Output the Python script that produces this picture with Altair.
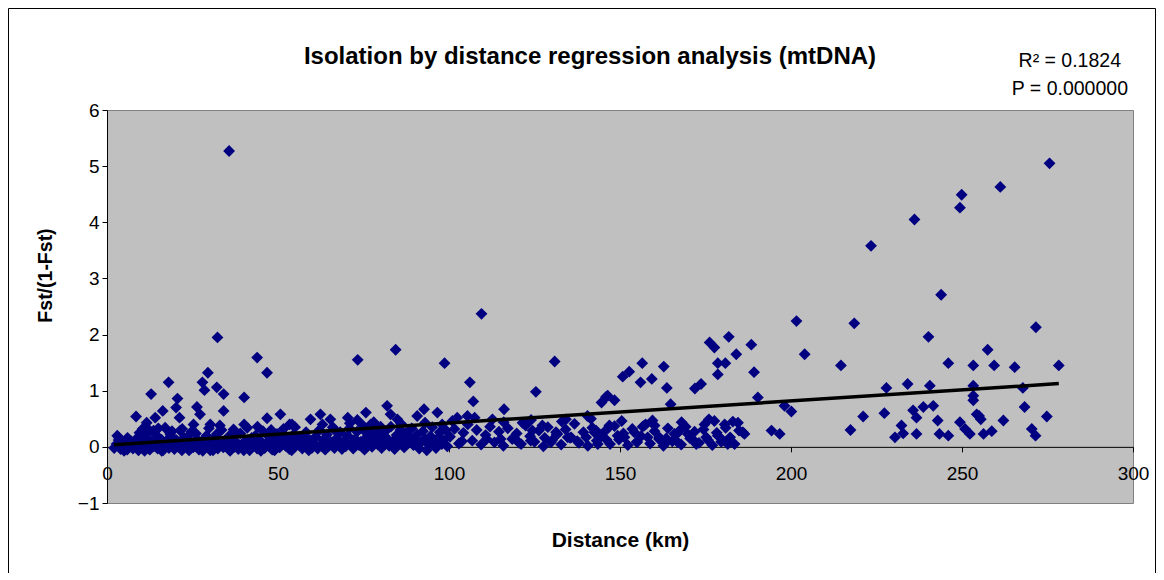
import altair as alt
import pandas as pd

# ---- data ----
# scattered / upper points
sparse_x = [35.7, 32.3, 43.9, 46.8, 18.0, 29.5, 27.9, 28.5, 12.9, 32.1, 34.1, 20.6, 40.1, 20.2, 26.3, 16.3,
            34.1, 8.5, 27.2, 14.1, 21.2, 50.7, 46.8, 40.1, 30.2, 53.4, 11.6, 10.4, 17.0, 21.4, 25.3, 13.6,
            18.5, 24.3, 32.1, 35.8, 43.4, 49.7, 3.5, 59.5, 62.4, 65.3,
            109.5, 73.3, 84.4, 98.7, 106.1, 107.1, 75.7, 96.6, 81.9, 92.7, 70.4, 73.2, 82.9, 84.9, 90.7,
            102.4, 105.4, 77.1, 66.3, 54.1,
            130.9, 125.4, 116.1, 134.2, 112.7, 134.7, 131.3, 127.3, 124.4, 121.5, 156.5, 162.8, 150.8,
            152.7, 156.0, 159.3, 163.7, 164.8, 145.9, 148.4, 144.6, 140.5, 146.9, 157.1, 160.1, 131.7,
            142.5, 151.3, 154.2, 115.1, 119.0, 123.9, 129.8, 143.5, 164.0, 165.9,
            201.6, 181.8, 176.2, 177.6, 188.4, 184.0, 204.0, 178.6, 180.8, 189.2, 178.6, 171.9, 173.7,
            190.3, 146.4, 198.1, 200.1, 135.7, 140.1, 143.0, 146.9, 149.3, 156.6, 158.1, 161.5, 167.4,
            169.8, 166.9, 172.3, 174.7, 177.6, 180.6, 184.5, 186.4, 178.6, 181.5, 194.3, 196.7, 175.2,
            185.9,
            223.4, 218.5, 214.6, 221.1, 217.4,
            275.6, 261.2, 249.9, 249.4, 236.1, 243.9, 271.6, 240.2, 257.5, 278.3, 246.0, 253.3, 259.4,
            265.4, 234.1, 227.9, 240.6, 253.3, 267.8, 253.3, 253.3, 227.3, 235.7, 236.7, 238.7, 241.6,
            268.3, 274.8, 242.9, 255.0, 262.1, 249.4, 232.3, 230.4, 232.8, 236.7, 243.4, 246.0, 250.9,
            252.3, 254.3, 255.5, 256.3, 258.7, 270.4, 271.5]
sparse_y = [5.27, 1.95, 1.59, 1.32, 1.15, 1.32, 1.15, 1.01, 0.94, 1.06, 0.94, 0.86, 0.88, 0.70, 0.71, 0.64,
            0.64, 0.54, 0.58, 0.52, 0.52, 0.58, 0.51, 0.40, 0.40, 0.40, 0.43, 0.32, 0.34, 0.29, 0.40, 0.29,
            0.23, 0.23, 0.23, 0.20, 0.20, 0.23, 0.16, 0.49, 0.58, 0.49,
            2.37, 1.55, 1.73, 1.49, 1.15, 0.81, 0.61, 0.61, 0.73, 0.67, 0.52, 0.48, 0.58, 0.49, 0.55,
            0.52, 0.55, 0.40, 0.32, 0.40,
            1.52, 0.98, 0.67, 0.49, 0.49, 0.17, 0.26, 0.38, 0.29, 0.43, 1.49, 1.43, 1.25,
            1.34, 1.15, 1.21, 1.05, 0.76, 0.89, 0.83, 0.79, 0.55, 0.38, 0.38, 0.38, 0.23,
            0.26, 0.17, 0.26, 0.14, 0.17, 0.11, 0.08, 0.05, 0.11, 0.23,
            2.24, 1.96, 1.86, 1.77, 1.82, 1.65, 1.65, 1.49, 1.49, 1.33, 1.29, 1.04, 1.12,
            0.88, 0.91, 0.73, 0.63, 0.17, 0.17, 0.29, 0.36, 0.20, 0.36, 0.17, 0.17, 0.29,
            0.23, 0.08, 0.05, 0.40, 0.46, 0.40, 0.43, 0.23, 0.20, 0.05, 0.29, 0.23, 0.17,
            0.26,
            3.58, 2.20, 1.45, 0.54, 0.30,
            5.05, 4.63, 4.49, 4.26, 4.05, 2.71, 2.13, 1.96, 1.73, 1.45, 1.49, 1.45, 1.45,
            1.42, 1.12, 1.05, 1.09, 1.09, 1.05, 0.91, 0.83, 0.60, 0.65, 0.52, 0.71, 0.73,
            0.71, 0.54, 0.47, 0.55, 0.47, 0.44, 0.38, 0.17, 0.24, 0.23, 0.23, 0.20, 0.32,
            0.23, 0.58, 0.49, 0.23, 0.28, 0.32, 0.20]

# dense band near zero
band_x = [2.1, 2.8, 3.4, 4.0, 4.7, 5.3, 5.9, 6.4, 7.0, 7.6, 8.1, 8.7, 9.2, 9.8, 10.3, 10.9, 11.4, 12.0,
          12.5, 13.1, 13.7, 14.2, 14.8, 15.3, 15.9, 16.4, 17.0, 17.5, 18.1, 18.6, 19.2, 19.7, 20.3, 20.8,
          21.4, 21.9, 22.5, 23.0, 23.6, 24.1, 24.7, 25.2, 25.8, 26.3, 26.9, 27.4, 28.0, 28.5, 29.1, 29.6,
          30.2, 30.7, 31.3, 31.8, 32.4, 32.9, 33.5, 34.0, 34.6, 35.1, 35.7, 36.2, 36.8, 37.3, 37.9, 38.4,
          39.0, 39.5, 40.1, 40.6, 41.2, 41.7, 42.3, 42.8, 43.4, 43.9, 44.5, 45.0, 45.6, 46.1, 46.7, 47.2,
          47.8, 48.3, 48.9, 49.4, 50.0, 50.5, 51.1, 51.6, 52.2, 52.7, 53.3, 53.8, 54.4, 54.9, 55.5, 56.0,
          56.6, 57.1, 57.7, 58.2, 58.8, 59.3, 59.9,
          3.0, 6.0, 9.5, 12.3, 15.0, 19.0, 22.0, 26.0, 29.8, 33.0, 37.0, 41.0, 44.0, 48.0, 52.0, 55.0,
          58.0, 5.0, 11.0, 16.0, 24.0, 28.0, 31.0, 36.0, 40.0, 45.0, 49.0, 54.0, 59.0,
          60.5, 61.0, 61.6, 62.1, 62.7, 63.2, 63.8, 64.3, 64.9, 65.4, 66.0, 66.5, 67.1, 67.6, 68.2, 68.7,
          69.3, 69.8, 70.4, 70.9, 71.5, 72.0, 72.6, 73.1, 73.7, 74.2, 74.8, 75.3, 75.9, 76.4, 77.0, 77.5,
          78.1, 78.6, 79.2, 79.7, 80.3, 80.8, 81.4, 81.9, 82.5, 83.0, 83.6, 84.1, 84.7, 85.2, 85.8, 86.3,
          86.9, 87.4, 88.0, 88.5, 89.1, 89.6, 90.2, 90.7, 91.3, 91.8, 92.4, 92.9, 93.5, 94.0, 94.6, 95.1,
          95.7, 96.2, 96.8, 97.3, 97.9, 98.4, 99.0, 99.5,
          63.0, 71.0, 78.0, 86.0, 93.0, 98.0, 80.0, 75.0, 67.0,
          100.3, 101.6, 102.9, 104.2, 105.5, 106.8, 108.1, 109.4, 110.7, 112.0, 113.3, 114.6,
          115.9, 117.2, 118.5, 119.8, 121.1, 122.4, 123.7, 125.0, 126.3, 127.6, 128.9, 130.2,
          131.5, 132.8, 134.1, 135.4, 136.7, 138.0, 139.3, 140.6, 141.9, 143.2, 144.5, 145.8,
          147.1, 148.4, 149.7, 151.0, 152.3, 153.6, 154.9, 156.2, 157.5, 158.8, 160.1, 161.4,
          162.7, 164.0, 165.3, 166.6, 167.9, 169.2, 170.5, 171.8, 173.1, 174.4, 175.7, 177.0,
          178.3, 179.6, 180.9, 182.2, 183.5, 184.8,
          101.0, 103.8, 107.5, 111.0, 116.0, 120.5, 124.0, 128.0, 133.0, 137.5, 141.5, 146.0,
          150.5, 155.0, 159.5, 163.5, 168.0, 172.0, 176.0, 180.0, 183.0]
band_y = [-0.02, 0.05, 0.12, -0.04, 0.03, 0.08, -0.05, 0.01, 0.10, -0.03, 0.04, 0.15, -0.06, 0.02, 0.07, -0.02,
          0.18, 0.04, -0.05, 0.09, 0.01, 0.22, -0.03, 0.06, 0.13, -0.06, 0.03, 0.10, -0.02, 0.19, 0.05, -0.04,
          0.12, 0.00, 0.07, -0.06, 0.16, 0.03, -0.03, 0.09, 0.27, -0.01, 0.05, 0.14, -0.05, 0.02, 0.11, -0.02,
          0.20, 0.06, -0.06, 0.01, 0.15, 0.04, -0.03, 0.09, 0.30, -0.01, 0.06, 0.13, -0.05, 0.03, 0.18, 0.00,
          0.08, -0.04, 0.24, 0.05, -0.02, 0.11, 0.02, -0.06, 0.16, 0.04, 0.09, -0.03, 0.13, 0.01, 0.28, -0.02,
          0.07, 0.19, 0.03, -0.05, 0.10, 0.05, 0.15, -0.01, 0.08, 0.32, 0.02, 0.12, -0.04, 0.06, 0.21, 0.00,
          0.10, 0.04, 0.17, -0.03, 0.08, 0.26, 0.03, 0.12, -0.02,
          0.20, 0.16, 0.25, 0.30, 0.33, 0.28, 0.32, 0.24, 0.33, 0.38, 0.31, 0.34, 0.36, 0.30, 0.20, 0.35,
          0.15, -0.07, -0.07, -0.07, -0.06, -0.07, -0.06, -0.07, -0.06, -0.07, -0.06, -0.06, -0.06,
          0.07, 0.18, -0.03, 0.30, 0.04, 0.12, -0.05, 0.22, 0.02, 0.09, 0.35, -0.02, 0.15, 0.05, 0.26, -0.04,
          0.11, 0.01, 0.20, 0.33, 0.06, -0.03, 0.14, 0.27, 0.03, 0.09, 0.38, -0.05, 0.17, 0.06, 0.24, 0.00,
          0.12, 0.31, 0.04, 0.19, -0.02, 0.08, 0.28, 0.15, 0.02, 0.36, 0.10, -0.04, 0.21, 0.05, 0.30, 0.13,
          -0.01, 0.25, 0.07, 0.17, 0.33, 0.03, 0.11, 0.22, -0.03, 0.08, 0.28, 0.14, -0.06, 0.04, 0.19, 0.35,
          0.09, -0.02, 0.16, 0.26, 0.05, 0.12, 0.30, 0.01,
          0.40, 0.42, 0.44, 0.41, 0.43, 0.40, 0.36, 0.30, 0.28,
          0.18, 0.32, 0.06, 0.25, 0.40, 0.11, 0.30, 0.04, 0.21, 0.36, 0.08, 0.27,
          0.02, 0.33, 0.14, 0.24, 0.05, 0.38, 0.19, 0.09, 0.29, 0.01, 0.35, 0.12,
          0.22, 0.04, 0.31, 0.16, 0.41, 0.07, 0.26, 0.02, 0.34, 0.11, 0.20, 0.29,
          0.05, 0.37, 0.13, 0.24, 0.03, 0.32, 0.09, 0.19, 0.40, 0.06, 0.28, 0.14,
          0.02, 0.33, 0.10, 0.23, 0.04, 0.36, 0.15, 0.27, 0.07, 0.31, 0.12, 0.03,
          0.25, 0.09, 0.34, 0.17, 0.05, 0.29,
          0.46, 0.10, 0.52, 0.14, 0.44, 0.07, 0.48, 0.16, 0.45, 0.10, 0.50, 0.13,
          0.46, 0.08, 0.47, 0.15, 0.44, 0.09, 0.49, 0.12, 0.45]

# regression line
reg_intercept = 0.03
reg_slope = 0.00394
line_x = [2.0, 278.3]

x_ticks = [0, 50, 100, 150, 200, 250, 300]
y_ticks = [-1, 0, 1, 2, 3, 4, 5, 6]

chart_title = "Isolation by distance regression analysis (mtDNA)"
x_title = "Distance (km)"
y_title = "Fst/(1-Fst)"
r2_text = "R\u00b2 = 0.1824"
p_text = "P = 0.000000"

# ---- build ----
W, H = 1026, 393
FONT = "Liberation Sans"

pts = pd.DataFrame({"x": sparse_x + band_x, "y": sparse_y + band_y})
line_df = pd.DataFrame({"x": line_x, "y": [reg_intercept + reg_slope * v for v in line_x]})

xscale = alt.Scale(domain=[0, 300], nice=False, zero=False)
yscale = alt.Scale(domain=[-1, 6], nice=False, zero=False)

xaxis = alt.Axis(values=x_ticks, grid=False, offset=-H / 7.0, domainColor="black", tickColor="black",
                 tickSize=5, labelFont=FONT, labelFontSize=19, labelColor="black", labelPadding=13,
                 labelFlush=False, labelOverlap=False,
                 title=x_title, titleFont=FONT, titleFontSize=21, titleFontWeight="bold",
                 titleColor="black", titleY=94, titleBaseline="middle")
yaxis = alt.Axis(values=y_ticks, grid=False, domainColor="black", tickColor="black", tickSize=5,
                 labelFont=FONT, labelFontSize=19, labelColor="black", labelPadding=3,
                 labelFlush=False, labelOverlap=False,
                 title=y_title, titleFont=FONT, titleFontSize=19.5, titleFontWeight="bold",
                 titleColor="black", titleX=-62, titleY=165, titleAlign="center",
                 titleBaseline="middle")

points = alt.Chart(pts).mark_point(shape="diamond", filled=True, size=140, color="#000080",
                                   opacity=1).encode(
    x=alt.X("x:Q", scale=xscale, axis=xaxis),
    y=alt.Y("y:Q", scale=yscale, axis=yaxis),
)

reg = alt.Chart(line_df).mark_line(color="black", strokeWidth=3.5).encode(
    x=alt.X("x:Q", scale=xscale, axis=xaxis),
    y=alt.Y("y:Q", scale=yscale, axis=yaxis),
)

one = pd.DataFrame({"a": [0]})
frame_top = alt.Chart(one).mark_rule(color="black", strokeWidth=1).encode(
    x=alt.value(-98.5), x2=alt.value(W + 22.5), y=alt.value(-101.5))
frame_left = alt.Chart(one).mark_rule(color="black", strokeWidth=1).encode(
    x=alt.value(-98.5), y=alt.value(-101.5), y2=alt.value(H + 75))
frame_right = alt.Chart(one).mark_rule(color="black", strokeWidth=1).encode(
    x=alt.value(W + 22.5), y=alt.value(-101.5), y2=alt.value(H + 75))

title_mark = alt.Chart(pd.DataFrame({"t": [chart_title]})).mark_text(
    font=FONT, fontSize=24, fontWeight="bold", align="center", baseline="middle", color="black"
).encode(x=alt.value(483), y=alt.value(-53), text="t:N")

r2_mark = alt.Chart(pd.DataFrame({"t": [r2_text]})).mark_text(
    font=FONT, fontSize=19.5, align="right", baseline="middle", color="black"
).encode(x=alt.value(1014), y=alt.value(-49), text="t:N")

p_mark = alt.Chart(pd.DataFrame({"t": [p_text]})).mark_text(
    font=FONT, fontSize=19.5, align="right", baseline="middle", color="black"
).encode(x=alt.value(1021), y=alt.value(-21), text="t:N")

chart = alt.layer(frame_top, frame_left, frame_right, points, reg, title_mark, r2_mark, p_mark).properties(
    width=W, height=H,
    autosize=alt.AutoSizeParams(type="none"),
    padding={"left": 99, "top": 102, "right": 23, "bottom": 70},
    background="white",
).configure_view(fill="#C0C0C0", stroke="#808080", strokeWidth=1)

chart.save("out.html", embed_options={"renderer": "svg", "actions": False})
